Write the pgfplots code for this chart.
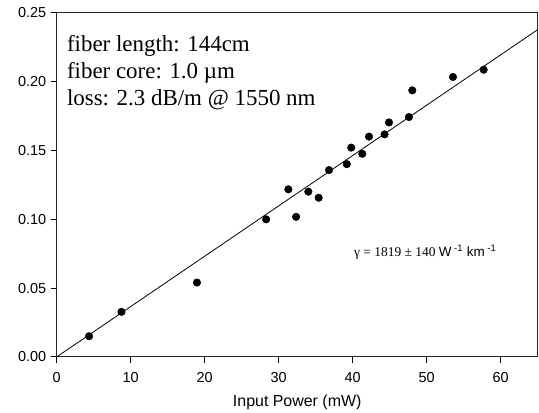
\documentclass[border=0pt]{standalone}
\usepackage{fontspec}
\setmainfont{Liberation Serif}
\setsansfont{Liberation Sans}
\usepackage{pgfplots}
\pgfplotsset{compat=1.18}
\usetikzlibrary{calc}

\begin{document}
\begin{tikzpicture}
\begin{axis}[
    scale only axis,
    width=480.7bp, height=344bp,
    xmin=0, xmax=65,
    ymin=0, ymax=0.25,
    xtick={0,10,20,30,40,50,60},
    ytick={0,0.05,0.10,0.15,0.20,0.25},
    tick pos=left,
    tick align=outside,
    major tick length=6bp,
    tick style={black, line width=0.8bp},
    axis line style={black!85, line width=1bp},
    /pgf/number format/assume math mode=true,
    ticklabel style={font=\sffamily\fontsize{14.5}{16}\selectfont},
    xticklabel style={yshift=-6bp},
    yticklabel style={xshift=-1bp, /pgf/number format/fixed, /pgf/number format/fixed zerofill, /pgf/number format/precision=2},
    xlabel={Input Power (mW)},
    xlabel style={font=\sffamily\fontsize{16}{18}\selectfont, yshift=-5bp},
    clip=false,
]
\addplot[black, line width=0.8bp] coordinates {(0,0) (65,0.2377)};

\addplot[only marks, mark=*, mark size=3.8bp, mark options={fill=black, draw=black}] coordinates {
(4.37,0.0150) (8.75,0.0327) (18.95,0.0540) (28.3,0.0999) (31.3,0.1217)
(32.35,0.1017) (34.0,0.1200) (35.4,0.1156) (36.8,0.1357) (39.2,0.1400)
(39.8,0.1520) (41.3,0.1475) (42.2,0.1600) (44.3,0.1616) (44.9,0.1703)
(47.6,0.1742) (48.05,0.1936) (53.55,0.2033) (57.7,0.2086)
};

\node[anchor=north west, align=left, inner sep=0pt, font=\fontsize{23}{27}\selectfont]
  at (rel axis cs:0.021,0.935) {fiber length: 144cm\\fiber core: 1.0 µm\\loss: 2.3 dB/m @ 1550 nm};

\node[font=\fontsize{13.5}{15}\selectfont] at (rel axis cs:0.766,0.304)
  {γ = 1819 ± 140 {\sffamily W\textsuperscript{ -1} km\textsuperscript{ -1}}};
\end{axis}
\path ($(current axis.south west)+(-56.7bp,-55.3bp)$) rectangle ($(current axis.north east)+(1.3bp,12.7bp)$);
\end{tikzpicture}
\end{document}
